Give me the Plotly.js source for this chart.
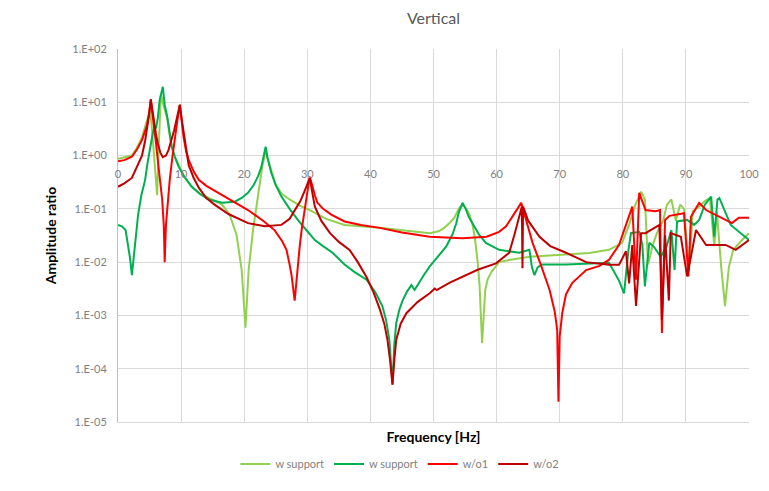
<!DOCTYPE html>
<html>
<head>
<meta charset="utf-8">
<script src="https://cdn.plot.ly/plotly-3.0.1.min.js"></script>
<style>html,body{margin:0;padding:0;background:#fff;}#chart{width:769px;height:491px;}</style>
</head>
<body>
<div id="chart"></div>
<script>
// Frequency [Hz] and amplitude ratio for each series
const freqLG = [0,1,2.2,3.0,3.8,4.3,4.6,5.1,5.4,5.7,6.0,6.2,6.5,6.8,7.3,7.8,8.1,8.5,9.0,9.7,10.5,11.7,13,14.4,15.5,16.5,17.7,18.8,19.6,20.2,20.7,21.4,22.2,22.9,23.4,23.8,24.1,25.0,26,27.2,28.8,30.4,33,35.9,41.5,46,49.4,50.8,51.7,52.6,53.3,54.1,54.7,55.2,55.7,56.2,56.6,57.0,57.3,57.7,58.2,58.6,59.2,60.4,62.0,65.2,69.9,74.7,77.8,79.9,81.0,82.0,82.9,83.5,84.0,84.7,85.4,86.4,87.0,87.7,88.4,89.1,89.7,90.5,91.1,92.1,93.0,93.8,94.5,94.9,95.6,96.2,96.8,97.5,98.9,100];
const ampLG = [0.87,0.92,1.0,1.4,2.2,3.5,4.7,7,3.0,1.0,0.4,0.18,2.0,14,8,5.1,2.8,1.5,0.95,0.62,0.4,0.26,0.19,0.16,0.14,0.12,0.078,0.032,0.0071,0.00059,0.0071,0.04,0.18,0.66,1.17,0.8,0.66,0.28,0.19,0.15,0.115,0.095,0.065,0.05,0.044,0.038,0.035,0.038,0.044,0.055,0.068,0.105,0.12,0.1,0.078,0.05,0.026,0.01,0.0037,0.0003,0.003,0.0048,0.0066,0.01,0.011,0.0126,0.0138,0.0148,0.017,0.023,0.05,0.12,0.21,0.15,0.009,0.02,0.035,0.06,0.12,0.15,0.06,0.12,0.1,0.0071,0.09,0.11,0.14,0.16,0.02,0.09,0.008,0.0015,0.008,0.017,0.026,0.035];

const freqG = [0,0.6,1.2,1.6,1.9,2.2,2.5,2.8,3.2,3.7,4.3,4.7,5.1,5.5,5.8,6.0,6.3,6.6,7.1,7.4,7.8,8.1,8.5,9.0,9.6,10.5,11.7,13.0,14.4,16.5,18.5,19.6,20.6,21.5,22.2,22.7,23.1,23.4,23.7,24.3,25.0,25.9,27.2,28.5,30.0,31.2,32.5,34.0,35.9,37.5,39.4,40.8,41.9,42.5,43.0,43.5,43.8,44.1,44.6,45.1,45.8,46.5,47.0,47.5,48.5,49.4,50.7,52.0,53.0,53.6,54.0,54.3,54.6,54.9,55.1,55.6,56.2,57.2,58.3,60.4,63.6,65.2,65.6,66.0,66.5,67.2,71.0,77.8,78.3,79.4,80.2,80.9,81.3,82.6,83.1,83.5,84.2,85.0,86.0,86.9,87.7,88.2,88.6,90.2,91.3,92.1,93.0,94.0,94.5,95.0,95.3,97.1,100];
const ampG = [0.05,0.047,0.04,0.022,0.012,0.0057,0.012,0.03,0.08,0.18,0.35,0.75,1.45,2.6,3.5,3.2,5,11,19.5,9,5.4,2.8,1.5,0.95,0.62,0.4,0.26,0.19,0.15,0.13,0.136,0.16,0.2,0.28,0.41,0.6,0.95,1.47,0.9,0.47,0.28,0.17,0.1,0.062,0.038,0.026,0.02,0.015,0.009,0.0065,0.0047,0.0027,0.0015,0.0008,0.00035,0.00005,0.0003,0.00072,0.0013,0.0019,0.0028,0.0037,0.003,0.0038,0.0058,0.0083,0.013,0.0195,0.033,0.053,0.085,0.11,0.13,0.11,0.1,0.07,0.053,0.033,0.023,0.017,0.015,0.017,0.008,0.0057,0.008,0.009,0.009,0.0097,0.0077,0.0045,0.0026,0.017,0.035,0.037,0.021,0.0035,0.023,0.019,0.0126,0.019,0.04,0.0071,0.058,0.062,0.05,0.062,0.12,0.17,0.03,0.15,0.16,0.05,0.026];

const freqR = [0,1,2.2,3.0,3.8,4.3,4.6,4.9,5.2,5.5,5.7,6.0,6.3,6.7,7.0,7.25,7.4,7.6,7.9,8.2,8.6,9.0,9.4,9.8,10.1,10.4,10.8,11.2,12.0,12.8,14.0,15.3,17.5,20.6,23,24.8,26.0,26.7,27.2,27.5,28.0,28.4,28.8,29.1,29.6,29.9,30.4,30.8,31.2,31.6,32.5,33.8,35.9,38.5,41.5,45,49.4,52,54.6,58.4,60.4,61.5,62.5,63.3,63.9,64.4,64.9,65.7,67.0,68.4,69.2,69.6,69.8,70.0,70.4,71.0,72.0,74.2,76.3,77.8,79.4,81.0,81.5,82.1,82.6,83.6,85.2,85.9,86.2,86.7,87.4,89.7,90.4,90.8,92.1,93.2,97.3,98.4,100];
const ampR = [0.78,0.82,0.95,1.3,1.95,2.8,3.7,6,11,5.5,3.7,1.8,0.83,0.35,0.15,0.05,0.01,0.05,0.15,0.35,0.9,2.2,4.5,8.9,4.5,2.2,1.2,0.83,0.5,0.35,0.27,0.22,0.15,0.095,0.06,0.04,0.025,0.017,0.009,0.0057,0.0019,0.0075,0.02,0.04,0.09,0.17,0.4,0.25,0.18,0.13,0.1,0.078,0.058,0.05,0.044,0.036,0.03,0.029,0.028,0.03,0.037,0.047,0.07,0.1,0.13,0.08,0.045,0.023,0.009,0.003,0.0012,0.00054,0.000024,0.0004,0.0011,0.0025,0.0041,0.0071,0.0085,0.011,0.021,0.071,0.11,0.0047,0.2,0.095,0.09,0.095,0.00047,0.062,0.074,0.083,0.0054,0.071,0.13,0.095,0.054,0.068,0.068];

const freqDR = [0,1,2.2,3.0,3.8,4.3,4.6,4.9,5.2,5.5,5.7,6.0,6.3,6.7,7.1,7.6,8.0,8.5,8.9,9.2,9.5,9.8,10.1,10.3,10.7,11.2,12.0,12.8,14.0,15.3,17.5,20.6,23.3,25.9,27.2,28.0,28.9,29.6,30.0,30.4,30.8,31.2,32.2,33.6,35.0,36.7,38.0,39.4,40.5,41.5,42.2,42.7,43.1,43.5,43.8,44.1,44.8,45.7,47.5,49.4,50.2,50.5,52.5,54.6,57,59.9,62.0,62.8,63.6,64.0,64.1,64.2,65.0,66.8,68.5,71.0,74.2,77.8,79.4,80.5,81.0,81.5,82.1,82.9,83.6,85.8,86.2,86.7,87.3,87.6,89.2,90.2,91.6,93.2,96.3,97.9,100];
const ampDR = [0.26,0.3,0.38,0.6,1.0,1.9,3.0,5.5,11.5,6,4.3,2.6,1.7,1.15,0.93,1.0,1.27,1.95,3.0,4.3,6,9.0,4.8,3.3,1.5,0.66,0.38,0.25,0.16,0.12,0.08,0.054,0.047,0.05,0.065,0.095,0.14,0.22,0.3,0.38,0.2,0.11,0.06,0.035,0.024,0.017,0.01,0.0052,0.0027,0.0013,0.0007,0.00035,0.00015,0.00005,0.00015,0.00035,0.0007,0.0011,0.0018,0.0026,0.0032,0.003,0.0041,0.0054,0.0072,0.0095,0.015,0.032,0.078,0.11,0.0077,0.11,0.06,0.03,0.02,0.015,0.01,0.0089,0.0089,0.016,0.004,0.021,0.0015,0.035,0.035,0.05,0.00083,0.032,0.0019,0.035,0.03,0.0054,0.04,0.021,0.021,0.017,0.026];

const seriesNames = ['w support', 'w support', 'w/o1', 'w/o2'];
const yTickVals = [1e-5, 1e-4, 1e-3, 1e-2, 1e-1, 1, 10, 100];
const yTickText = ['1.E-05', '1.E-04', '1.E-03', '1.E-02', '1.E-01', '1.E+00', '1.E+01', '1.E+02'];
const xTickVals = [0, 10, 20, 30, 40, 50, 60, 70, 80, 90, 100];

const colors = ['#92D050', '#00B050', '#FF0000', '#C00000'];
const xs = [freqLG, freqG, freqR, freqDR];
const ys = [ampLG, ampG, ampR, ampDR];

const traces = xs.map((x, i) => ({
  x: x, y: ys[i], type: 'scatter', mode: 'lines', name: seriesNames[i],
  line: {color: colors[i], width: 2}
}));
// helper trace so the crossing x-axis (labels at 1.E+00) renders
traces.push({x: [null], y: [null], xaxis: 'x2', yaxis: 'y', type: 'scatter', mode: 'lines', showlegend: false, hoverinfo: 'skip'});

const font = 'Lato, "Open Sans", "Liberation Sans", sans-serif';
const layout = {
  width: 769, height: 491,
  margin: {l: 118, r: 20, t: 49, b: 69},
  paper_bgcolor: '#ffffff', plot_bgcolor: '#ffffff',
  font: {family: font, color: '#595959', size: 11},
  title: {text: 'Vertical', font: {size: 16, color: '#595959', family: font}, x: 0.5, xref: 'paper', y: 0.963, yref: 'container', yanchor: 'middle'},
  xaxis: {
    range: [0, 100], tickvals: xTickVals, showticklabels: false, ticks: '',
    showgrid: true, gridcolor: '#d9d9d9', gridwidth: 1, zeroline: false,
    showline: true, linecolor: '#d9d9d9', mirror: false,
    title: {text: 'Frequency [Hz]', font: {size: 14, color: '#000000', family: font, weight: 'bold'}, standoff: 10}
  },
  xaxis2: {
    overlaying: 'x', anchor: 'free', position: 5/7, range: [0, 100],
    tickvals: xTickVals, showgrid: false, zeroline: false, showline: false,
    ticks: 'outside', ticklen: 8, tickcolor: 'rgba(0,0,0,0)',
    tickfont: {size: 11, color: '#7f7f7f'}, side: 'bottom'
  },
  yaxis: {
    type: 'log', range: [-5, 2], tickvals: yTickVals, ticktext: yTickText,
    showgrid: true, gridcolor: '#d9d9d9', zeroline: false,
    showline: true, linecolor: '#bfbfbf',
    ticks: 'outside', ticklen: 8, tickcolor: 'rgba(0,0,0,0)',
    tickfont: {size: 11, color: '#7f7f7f'},
    title: {text: 'Amplitude ratio', font: {size: 14, color: '#000000', family: font, weight: 'bold'}, standoff: 12}
  },
  showlegend: true,
  legend: {orientation: 'h', x: 0.52, xref: 'container', xanchor: 'center', y: 0.055, yref: 'container', yanchor: 'middle',
           font: {size: 11, color: '#7f7f7f'}, traceorder: 'normal', itemwidth: 30}
};

Plotly.newPlot('chart', traces, layout, {displayModeBar: false, staticPlot: true});
</script>
</body>
</html>
